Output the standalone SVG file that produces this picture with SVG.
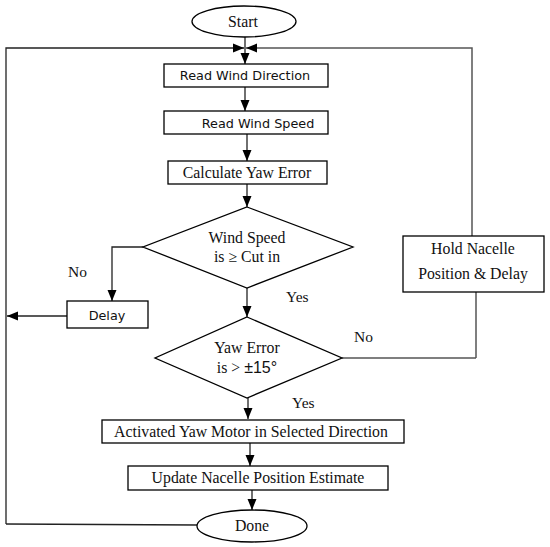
<svg xmlns="http://www.w3.org/2000/svg" width="550" height="547" viewBox="0 0 550 547">
<style>
.box{fill:#fff;stroke:#000;stroke-width:1.3}
.ln{fill:none;stroke:#222;stroke-width:1.3}
.gl{fill:none;stroke:#555;stroke-width:1.5}
.sans{font-family:"DejaVu Sans",Verdana,sans-serif;font-size:12.8px;fill:#111;text-anchor:middle}
.serif{font-family:"Liberation Serif","Times New Roman",serif;font-size:15.8px;fill:#111;text-anchor:middle}
.lbl{font-family:"Liberation Serif","Times New Roman",serif;font-size:15.5px;fill:#111}
</style>
<defs>
<marker id="ah" markerWidth="12" markerHeight="12" refX="11" refY="5.5" orient="auto" markerUnits="userSpaceOnUse">
<path d="M0,1 L11,5.5 L0,10 Z" fill="#000"/>
</marker>
</defs>
<rect width="550" height="547" fill="#fff"/>
<g id="connectors">
<line class="ln" x1="245" y1="37" x2="245" y2="64" marker-end="url(#ah)"/>
<polyline class="ln" points="6,524 6,48 244,48" marker-end="url(#ah)"/>
<polyline class="gl" points="476,358 476,292"/>
<polyline class="gl" points="472,236 472,48 246,48" marker-end="url(#ah)"/>
<line class="ln" x1="245" y1="87" x2="245" y2="111" marker-end="url(#ah)"/>
<line class="ln" x1="247" y1="134" x2="247" y2="161" marker-end="url(#ah)"/>
<line class="ln" x1="247" y1="184" x2="247" y2="207" marker-end="url(#ah)"/>
<polyline class="ln" points="143,247 112,247 112,301" marker-end="url(#ah)"/>
<line class="ln" x1="67" y1="316" x2="7" y2="316" marker-end="url(#ah)"/>
<line class="ln" x1="247" y1="288" x2="247" y2="317" marker-end="url(#ah)"/>
<polyline class="gl" points="342,358 476,358"/>
<line class="ln" x1="248" y1="398" x2="248" y2="419" marker-end="url(#ah)"/>
<line class="ln" x1="250" y1="443" x2="250" y2="466" marker-end="url(#ah)"/>
<line class="ln" x1="252" y1="490" x2="252" y2="510" marker-end="url(#ah)"/>
<polyline class="ln" points="197,525 6,524"/>
</g>
<g id="start">
<ellipse class="box" cx="244" cy="21.5" rx="52" ry="15.5"/>
<text class="serif" x="243" y="27">Start</text>
</g>
<g id="read-dir">
<rect class="box" x="164" y="64" width="164" height="23"/>
<text class="sans" x="245" y="80">Read Wind Direction</text>
</g>
<g id="read-speed">
<rect class="box" x="164" y="111" width="164" height="23"/>
<text class="sans" x="258" y="128">Read Wind Speed</text>
</g>
<g id="calc">
<rect class="box" x="168" y="161" width="159" height="23"/>
<text class="serif" x="247" y="178">Calculate Yaw Error</text>
</g>
<g id="dec1">
<polygon class="box" points="247,207 353,247 247,288 143,247"/>
<text class="serif" x="247" y="243">Wind Speed</text>
<text class="serif" x="247" y="262">is ≥ Cut in</text>
</g>
<g id="delay">
<rect class="box" x="67" y="301" width="81" height="27"/>
<text class="sans" x="107" y="320">Delay</text>
</g>
<g id="dec2">
<polygon class="box" points="247,317 342,358 247,398 155,358"/>
<text class="serif" x="247" y="353">Yaw Error</text>
<text class="serif" x="247" y="373">is &gt; <tspan style="font-family:'Liberation Sans',Arial,sans-serif;font-size:16px">±15°</tspan></text>
</g>
<g id="hold">
<rect class="box" x="403" y="236" width="141" height="56"/>
<text class="serif" x="473" y="254">Hold Nacelle</text>
<text class="serif" x="473" y="279">Position &amp; Delay</text>
</g>
<g id="activate">
<rect class="box" x="102" y="420" width="302" height="23"/>
<text class="serif" x="251" y="437">Activated Yaw Motor in Selected Direction</text>
</g>
<g id="update">
<rect class="box" x="128" y="466" width="260" height="24"/>
<text class="serif" x="258" y="483">Update Nacelle Position Estimate</text>
</g>
<g id="done">
<ellipse class="box" cx="252" cy="526" rx="55" ry="16"/>
<text class="serif" x="252" y="531">Done</text>
</g>
<g id="labels">
<text class="lbl" x="68" y="277">No</text>
<text class="lbl" x="286" y="302">Yes</text>
<text class="lbl" x="354" y="342">No</text>
<text class="lbl" x="292" y="408">Yes</text>
</g>
</svg>
